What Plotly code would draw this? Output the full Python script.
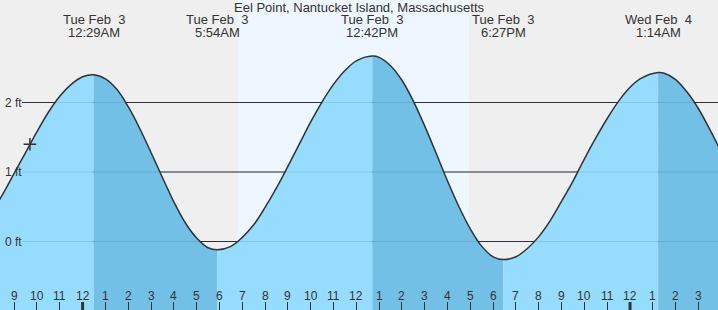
import plotly.graph_objects as go

# ---- data (hours from midnight Tue Feb 3, tide height in ft) ----
hours = [-4, -3.5, -3, -2.5, -2, -1.5, -1, -0.5, 0, 0.483,
         1, 1.5, 2, 2.5, 3, 3.5, 4, 4.5, 5, 5.5, 5.9,
         6.5, 7, 7.5, 8, 8.5, 9, 9.5, 10, 10.5, 11, 11.5, 12, 12.7,
         13, 13.5, 14, 14.5, 15, 15.5, 16, 16.5, 17, 17.5, 18, 18.45,
         19, 19.5, 20, 20.5, 21, 21.5, 22, 22.5, 23, 23.5, 24, 24.5, 25.23,
         25.5, 26, 26.5, 27, 27.5, 28]
heights = [0.40, 0.68, 0.98, 1.28, 1.58, 1.86, 2.09, 2.26, 2.37, 2.40,
           2.34, 2.19, 1.94, 1.63, 1.28, 0.92, 0.57, 0.27, 0.05, -0.09, -0.12,
           -0.07, 0.06, 0.24, 0.49, 0.77, 1.08, 1.40, 1.72, 2.01, 2.26, 2.46, 2.60, 2.67,
           2.65, 2.53, 2.32, 2.02, 1.66, 1.27, 0.87, 0.50, 0.18, -0.07, -0.22, -0.26,
           -0.22, -0.10, 0.07, 0.30, 0.58, 0.87, 1.19, 1.49, 1.77, 2.02, 2.22, 2.35, 2.43,
           2.42, 2.33, 2.15, 1.91, 1.61, 1.29]

event_hours = [0.483, 5.9, 12.7, 18.45, 25.23]
event_days = ["Tue Feb\u00a0\u00a03", "Tue Feb\u00a0\u00a03", "Tue Feb\u00a0\u00a03",
              "Tue Feb\u00a0\u00a03", "Wed Feb\u00a0\u00a04"]
event_times = ["12:29AM", "5:54AM", "12:42PM", "6:27PM", "1:14AM"]

now_hour = -2.31
now_height = 1.40

sunrise = 6.81
sunset = 16.94

tick_hours = list(range(-3, 28))
tick_labels = ["9", "10", "11", "12", "1", "2", "3", "4", "5", "6", "7", "8", "9", "10",
               "11", "12", "1", "2", "3", "4", "5", "6", "7", "8", "9", "10", "11", "12",
               "1", "2", "3"]
midnights = [0, 24]

grid_levels = [0, 1, 2]
grid_labels = ["0 ft", "1 ft", "2 ft"]

title = "Eel Point, Nantucket Island, Massachusetts"

# ---- style ----
W, H = 718, 310
BG = "#efefef"
DAY = "#eef7ff"
LIGHT = "#96dcfe"
DARK = "#73c0e6"
INK = "#333333"
FONT = "Liberation Sans, Arial, sans-serif"

x0_px, px_per_h = 82.6, 22.81
xr = [-x0_px / px_per_h, (W - x0_px) / px_per_h]
ft_px = 69.5
zero_px = 241.5
yr = [-(H - zero_px) / ft_px, zero_px / ft_px]

fig = go.Figure()

# segments split at tide extremes (rising = light, falling = dark)
idx = [hours.index(e) for e in event_hours]
bounds = [0] + idx + [len(hours) - 1]
for k in range(len(bounds) - 1):
    a, b = bounds[k], bounds[k + 1]
    sx = hours[a:b + 1]
    sy = heights[a:b + 1]
    rising = sy[-1] > sy[0]
    fig.add_trace(go.Scatter(x=[sx[0], sx[-1]], y=[-3, -3], mode="lines",
                             line=dict(width=0), hoverinfo="skip", showlegend=False))
    fig.add_trace(go.Scatter(x=sx, y=sy, mode="lines", fill="tonexty",
                             fillcolor=LIGHT if rising else DARK,
                             line=dict(width=0, shape="spline"),
                             hoverinfo="skip", showlegend=False))

fig.add_trace(go.Scatter(x=hours, y=heights, mode="lines",
                         line=dict(color=INK, width=1.5, shape="spline"),
                         hoverinfo="skip", showlegend=False))
fig.add_trace(go.Scatter(x=[now_hour], y=[now_height], mode="markers",
                         marker=dict(symbol="cross-thin", size=9,
                                     line=dict(color=INK, width=1.5)),
                         hoverinfo="skip", showlegend=False))

shapes = [dict(type="rect", xref="x", yref="paper", x0=sunrise, x1=sunset, y0=0, y1=1,
               fillcolor=DAY, line=dict(width=0), layer="below")]
for g in grid_levels:
    shapes.append(dict(type="line", xref="paper", yref="y", x0=22 / W, x1=1, y0=g, y1=g,
                       line=dict(color=INK, width=1), layer="below"))
    shapes.append(dict(type="line", xref="paper", yref="y", x0=22 / W, x1=1, y0=g, y1=g,
                       line=dict(color="rgba(0,40,90,0.12)", width=1), layer="above"))
for m in midnights:
    shapes.append(dict(type="line", xref="x", yref="paper", x0=m, x1=m, y0=0, y1=8 / H,
                       line=dict(color=INK, width=3), layer="above"))

ann = [dict(text=title, x=0.5, y=1 - 8 / H, xref="paper", yref="paper",
            xanchor="center", yanchor="middle", showarrow=False,
            font=dict(size=13, color=INK, family=FONT))]
for t, d, tm in zip(event_hours, event_days, event_times):
    ann.append(dict(text=d, x=t, y=1 - 20 / H, xref="x", yref="paper", xanchor="center",
                    yanchor="middle", showarrow=False, font=dict(size=13, color=INK, family=FONT)))
    ann.append(dict(text=tm, x=t, y=1 - 32 / H, xref="x", yref="paper", xanchor="center",
                    yanchor="middle", showarrow=False, font=dict(size=13, color=INK, family=FONT)))
for t, lab in zip(tick_hours, tick_labels):
    ann.append(dict(text=lab, x=t, y=(H - 296) / H, xref="x", yref="paper", xanchor="center",
                    yanchor="middle", showarrow=False, font=dict(size=12, color=INK, family=FONT)))
for g, lab in zip(grid_levels, grid_labels):
    ann.append(dict(text=lab, x=3 / W, y=g, xref="paper", yref="y", xanchor="left",
                    yanchor="middle", showarrow=False, font=dict(size=12, color=INK, family=FONT)))

fig.update_layout(
    width=W, height=H, margin=dict(l=0, r=0, t=0, b=0, pad=0),
    paper_bgcolor=BG, plot_bgcolor=BG, showlegend=False,
    shapes=shapes, annotations=ann,
    xaxis=dict(range=xr, showgrid=False, zeroline=False, showline=False,
               tickvals=tick_hours, ticks="inside", ticklen=8, tickcolor=INK, tickwidth=1,
               showticklabels=False, fixedrange=True),
    yaxis=dict(range=yr, showgrid=False, zeroline=False, showline=False,
               showticklabels=False, ticks="", fixedrange=True),
)
fig.write_html("out.html")
